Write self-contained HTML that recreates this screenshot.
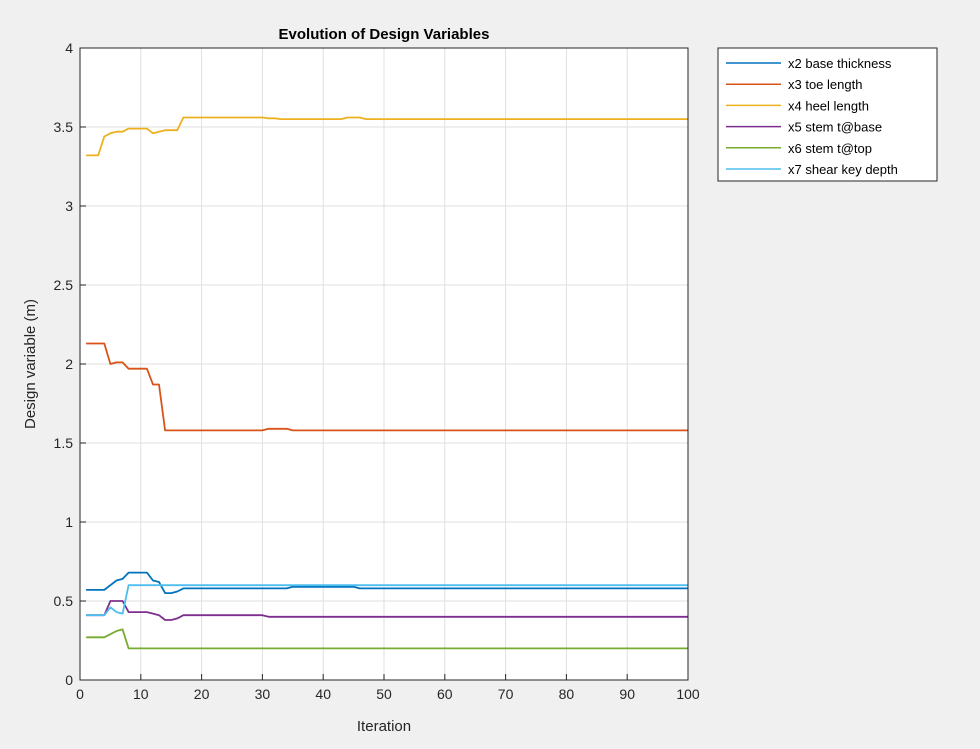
<!DOCTYPE html>
<html><head><meta charset="utf-8"><style>
body{margin:0;background:#f0f0f0;}
svg{display:block;font-family:"Liberation Sans",sans-serif;}
</style></head><body>
<svg id="chart" width="980" height="749" viewBox="0 0 980 749" xmlns="http://www.w3.org/2000/svg">
<rect x="0" y="0" width="980" height="749" fill="#f0f0f0"/>
<rect x="80" y="48" width="608" height="632" fill="#fff"/>
<g id="grid"></g>
<g id="series"></g>
<rect x="80" y="48" width="608" height="632" fill="none" stroke="#262626" stroke-width="1"/>
<g id="ticks"></g>
<text x="384" y="39" text-anchor="middle" font-size="15" font-weight="bold" fill="#000">Evolution of Design Variables</text>
<text x="384" y="731" text-anchor="middle" font-size="15" fill="#262626">Iteration</text>
<text transform="translate(35,364) rotate(-90)" text-anchor="middle" font-size="15" fill="#262626">Design variable (m)</text>
<g id="legend">
<rect x="718" y="48" width="219" height="133" fill="#fff" stroke="#262626" stroke-width="1"/>
</g>
</svg>
<script>
const xTicks=[0,10,20,30,40,50,60,70,80,90,100];
const yTicks=[0,0.5,1,1.5,2,2.5,3,3.5,4];
const yTickLabels=["0","0.5","1","1.5","2","2.5","3","3.5","4"];
const seriesNames=["x2 base thickness","x3 toe length","x4 heel length","x5 stem t@base","x6 stem t@top","x7 shear key depth"];
const seriesColors=["#0072bd","#d95319","#edb120","#7e2f8e","#77ac30","#4dbeee"];
const x2=[0.57,0.57,0.57,0.57,0.60,0.63,0.64,0.68,0.68,0.68,0.68,0.63,0.62,0.55,0.55,0.56,0.58,0.58,0.58,0.58,0.58,0.58,0.58,0.58,0.58,0.58,0.58,0.58,0.58,0.58,0.58,0.58,0.58,0.58,0.59,0.59,0.59,0.59,0.59,0.59,0.59,0.59,0.59,0.59,0.59,0.58,0.58,0.58,0.58,0.58,0.58,0.58,0.58,0.58,0.58,0.58,0.58,0.58,0.58,0.58,0.58,0.58,0.58,0.58,0.58,0.58,0.58,0.58,0.58,0.58,0.58,0.58,0.58,0.58,0.58,0.58,0.58,0.58,0.58,0.58,0.58,0.58,0.58,0.58,0.58,0.58,0.58,0.58,0.58,0.58,0.58,0.58,0.58,0.58,0.58,0.58,0.58,0.58,0.58,0.58];
const x3=[2.13,2.13,2.13,2.13,2.00,2.01,2.01,1.97,1.97,1.97,1.97,1.87,1.87,1.58,1.58,1.58,1.58,1.58,1.58,1.58,1.58,1.58,1.58,1.58,1.58,1.58,1.58,1.58,1.58,1.58,1.59,1.59,1.59,1.59,1.58,1.58,1.58,1.58,1.58,1.58,1.58,1.58,1.58,1.58,1.58,1.58,1.58,1.58,1.58,1.58,1.58,1.58,1.58,1.58,1.58,1.58,1.58,1.58,1.58,1.58,1.58,1.58,1.58,1.58,1.58,1.58,1.58,1.58,1.58,1.58,1.58,1.58,1.58,1.58,1.58,1.58,1.58,1.58,1.58,1.58,1.58,1.58,1.58,1.58,1.58,1.58,1.58,1.58,1.58,1.58,1.58,1.58,1.58,1.58,1.58,1.58,1.58,1.58,1.58,1.58];
const x4=[3.32,3.32,3.32,3.44,3.46,3.47,3.47,3.49,3.49,3.49,3.49,3.46,3.47,3.48,3.48,3.48,3.56,3.56,3.56,3.56,3.56,3.56,3.56,3.56,3.56,3.56,3.56,3.56,3.56,3.56,3.555,3.555,3.55,3.55,3.55,3.55,3.55,3.55,3.55,3.55,3.55,3.55,3.55,3.56,3.56,3.56,3.55,3.55,3.55,3.55,3.55,3.55,3.55,3.55,3.55,3.55,3.55,3.55,3.55,3.55,3.55,3.55,3.55,3.55,3.55,3.55,3.55,3.55,3.55,3.55,3.55,3.55,3.55,3.55,3.55,3.55,3.55,3.55,3.55,3.55,3.55,3.55,3.55,3.55,3.55,3.55,3.55,3.55,3.55,3.55,3.55,3.55,3.55,3.55,3.55,3.55,3.55,3.55,3.55,3.55];
const x5=[0.41,0.41,0.41,0.41,0.50,0.50,0.50,0.43,0.43,0.43,0.43,0.42,0.41,0.38,0.38,0.39,0.41,0.41,0.41,0.41,0.41,0.41,0.41,0.41,0.41,0.41,0.41,0.41,0.41,0.41,0.40,0.40,0.40,0.40,0.40,0.40,0.40,0.40,0.40,0.40,0.40,0.40,0.40,0.40,0.40,0.40,0.40,0.40,0.40,0.40,0.40,0.40,0.40,0.40,0.40,0.40,0.40,0.40,0.40,0.40,0.40,0.40,0.40,0.40,0.40,0.40,0.40,0.40,0.40,0.40,0.40,0.40,0.40,0.40,0.40,0.40,0.40,0.40,0.40,0.40,0.40,0.40,0.40,0.40,0.40,0.40,0.40,0.40,0.40,0.40,0.40,0.40,0.40,0.40,0.40,0.40,0.40,0.40,0.40,0.40];
const x6=[0.27,0.27,0.27,0.27,0.29,0.31,0.32,0.20,0.20,0.20,0.20,0.20,0.20,0.20,0.20,0.20,0.20,0.20,0.20,0.20,0.20,0.20,0.20,0.20,0.20,0.20,0.20,0.20,0.20,0.20,0.20,0.20,0.20,0.20,0.20,0.20,0.20,0.20,0.20,0.20,0.20,0.20,0.20,0.20,0.20,0.20,0.20,0.20,0.20,0.20,0.20,0.20,0.20,0.20,0.20,0.20,0.20,0.20,0.20,0.20,0.20,0.20,0.20,0.20,0.20,0.20,0.20,0.20,0.20,0.20,0.20,0.20,0.20,0.20,0.20,0.20,0.20,0.20,0.20,0.20,0.20,0.20,0.20,0.20,0.20,0.20,0.20,0.20,0.20,0.20,0.20,0.20,0.20,0.20,0.20,0.20,0.20,0.20,0.20,0.20];
const x7=[0.41,0.41,0.41,0.41,0.46,0.43,0.42,0.60,0.60,0.60,0.60,0.60,0.60,0.60,0.60,0.60,0.60,0.60,0.60,0.60,0.60,0.60,0.60,0.60,0.60,0.60,0.60,0.60,0.60,0.60,0.60,0.60,0.60,0.60,0.60,0.60,0.60,0.60,0.60,0.60,0.60,0.60,0.60,0.60,0.60,0.60,0.60,0.60,0.60,0.60,0.60,0.60,0.60,0.60,0.60,0.60,0.60,0.60,0.60,0.60,0.60,0.60,0.60,0.60,0.60,0.60,0.60,0.60,0.60,0.60,0.60,0.60,0.60,0.60,0.60,0.60,0.60,0.60,0.60,0.60,0.60,0.60,0.60,0.60,0.60,0.60,0.60,0.60,0.60,0.60,0.60,0.60,0.60,0.60,0.60,0.60,0.60,0.60,0.60,0.60];
const seriesData=[x2,x3,x4,x5,x6,x7];
const seriesKeys=["series-x2","series-x3","series-x4","series-x5","series-x6","series-x7"];

const NS="http://www.w3.org/2000/svg";
const L=80,R=688,T=48,B=680;
function xs(v){return L+(v-0)/(100-0)*(R-L);}
function ys(v){return B-(v-0)/(4-0)*(B-T);}
function mk(tag,attrs,parent){const e=document.createElementNS(NS,tag);for(const k in attrs)e.setAttribute(k,attrs[k]);parent.appendChild(e);return e;}
const grid=document.getElementById('grid'),ticks=document.getElementById('ticks'),ser=document.getElementById('series'),leg=document.getElementById('legend');
xTicks.forEach(function(t){
  const g=mk('line',{x1:xs(t),x2:xs(t),y1:T,y2:B,stroke:'#dfdfdf','stroke-width':1},grid);
  
  
  const tk=mk('line',{x1:xs(t),x2:xs(t),y1:B,y2:B-6,stroke:'#262626','stroke-width':1},ticks);
  
  
  const tx=mk('text',{x:xs(t),y:B+19,'text-anchor':'middle','font-size':14,fill:'#262626'},ticks);
  tx.textContent=String(t);
  
  
});
yTicks.forEach(function(t,i){
  const g=mk('line',{x1:L,x2:R,y1:ys(t),y2:ys(t),stroke:'#dfdfdf','stroke-width':1},grid);
  
  
  const tk=mk('line',{x1:L,x2:L+6,y1:ys(t),y2:ys(t),stroke:'#262626','stroke-width':1},ticks);
  
  
  const tx=mk('text',{x:L-7,y:ys(t)+5,'text-anchor':'end','font-size':14,fill:'#262626'},ticks);
  tx.textContent=yTickLabels[i];
  
  
});
seriesData.forEach(function(arr,si){
  const pts=arr.map(function(v,i){return xs(i+1).toFixed(1)+','+ys(v).toFixed(1);}).join(' ');
  const p=mk('polyline',{points:pts,fill:'none',stroke:seriesColors[si],'stroke-width':1.8,'stroke-linejoin':'round'},ser);
  
  
  const y=63+si*21.2;
  const ll=mk('line',{x1:726,x2:781,y1:y,y2:y,stroke:seriesColors[si],'stroke-width':1.5},leg);
  
  
  const lt=mk('text',{x:788,y:y+5,'font-size':13,fill:'#000'},leg);
  lt.textContent=seriesNames[si];
  
  
});
</script>
</body></html>
